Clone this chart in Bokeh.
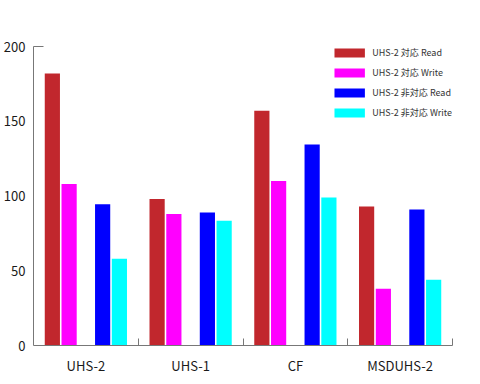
from bokeh.plotting import figure
from bokeh.models import Range1d, FixedTicker, Legend, LegendItem, ColumnDataSource
from bokeh.embed import file_html
from bokeh.resources import INLINE
import numpy as np

categories = ["UHS-2", "UHS-1", "CF", "MSDUHS-2"]
series_names = ["UHS-2 対応 Read", "UHS-2 対応 Write", "UHS-2 非対応 Read", "UHS-2 非対応 Write"]
uhs2_read = [182, 98, 157, 93]
uhs2_write = [108, 88, 110, 38]
non_read = [94.5, 89, 134.5, 91]
non_write = [58, 83.5, 99, 44]
y_ticks = [0, 50, 100, 150, 200]

colors = ["#C1272D", "#FF00FF", "#0000FF", "#00FFFF"]
offsets = [-0.32, -0.16, 0.16, 0.32]
FONT = "Noto Sans CJK JP"

p = figure(width=464, height=377, output_backend="svg", toolbar_location=None,
           x_range=Range1d(0, len(categories)), y_range=Range1d(0, 200),
           min_border_left=26, min_border_right=12, min_border_top=46, min_border_bottom=23)

centers = np.arange(len(categories)) + 0.5
items = []
for vals, col, off, name in zip([uhs2_read, uhs2_write, non_read, non_write], colors, offsets, series_names):
    src = ColumnDataSource(dict(x=centers + off, top=vals))
    r = p.vbar(x="x", top="top", width=0.145, bottom=0, source=src, fill_color=col, line_color=None)
    items.append(LegendItem(label=name, renderers=[r]))

legend = Legend(items=items, location="top_right", margin=0, padding=0,
                glyph_width=38, glyph_height=11, label_standoff=4, spacing=7, label_height=13,
                label_text_font=FONT, label_text_font_size="9px", label_text_color="#333333",
                border_line_color=None, background_fill_alpha=0)
p.add_layout(legend)

p.xgrid.grid_line_color = None
p.ygrid.grid_line_color = None
p.outline_line_color = None

xa = p.xaxis[0]
xa.ticker = FixedTicker(ticks=list(centers), minor_ticks=list(np.arange(1, len(categories) + 1)))
xa.major_label_overrides = {float(c): n for c, n in zip(centers, categories)}
xa.major_tick_line_color = None
xa.minor_tick_in = 7
xa.minor_tick_out = 0
xa.minor_tick_line_color = "#777777"
xa.axis_line_color = "#777777"
xa.major_label_text_font = FONT
xa.major_label_text_font_size = "13px"
xa.major_label_text_color = "#1a1a1a"
xa.major_label_standoff = 4

ya = p.yaxis[0]
ya.ticker = FixedTicker(ticks=y_ticks, minor_ticks=[y_ticks[-1]])
ya.major_tick_line_color = None
ya.minor_tick_in = 10
ya.minor_tick_out = 0
ya.minor_tick_line_color = "#777777"
ya.axis_line_color = "#777777"
ya.major_label_text_font = FONT
ya.major_label_text_font_size = "13px"
ya.major_label_text_color = "#1a1a1a"
ya.major_label_standoff = 2

open("out.html", "w").write(file_html(p, INLINE))
